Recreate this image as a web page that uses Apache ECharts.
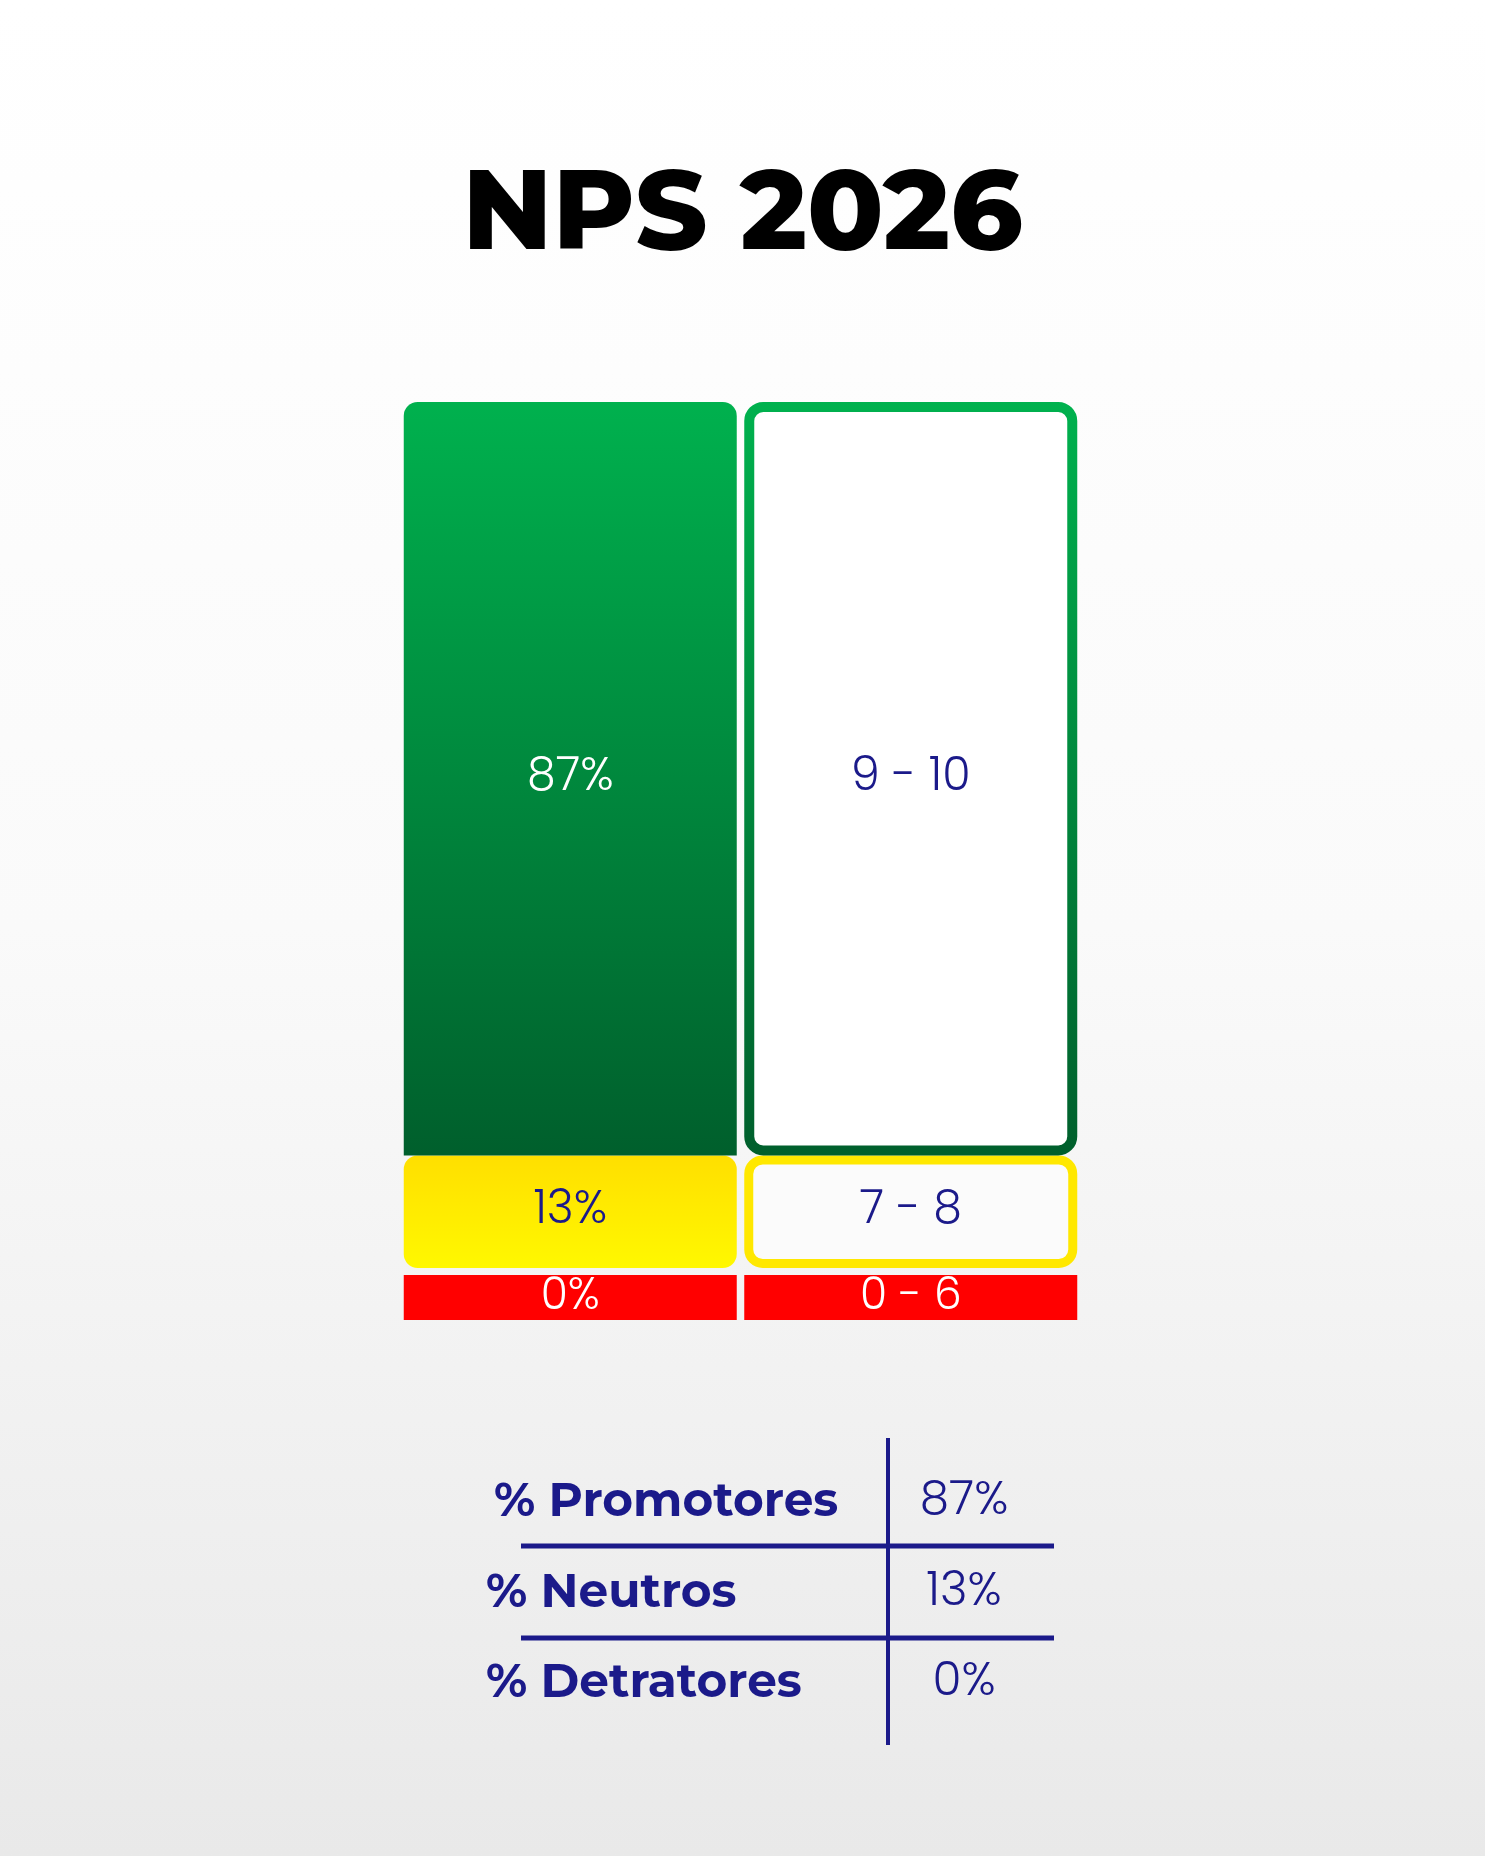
<!DOCTYPE html>
<html>
<head>
<meta charset="utf-8">
<script src="https://cdn.jsdelivr.net/npm/echarts@6/dist/echarts.min.js"></script>
<style>
  html, body { margin: 0; padding: 0; }
  #chart { width: 1485px; height: 1856px; background: linear-gradient(#ffffff 0%, #fafafa 50%, #e9e9e9 100%); }
</style>
</head>
<body>
<div id="chart"></div>
<script>
// data
const columns = ['pct', 'range'];
const promotores = 87;
const neutros = 13;
const detratores = 0;
const ranges = ['9 - 10', '7 - 8', '0 - 6'];
const tableLabels = ['% Promotores', '% Neutros', '% Detratores'];
const tableValues = [promotores, neutros, detratores];

const navy = '#1b1a8a';
const font = 'Poppins, Inter, "Open Sans", sans-serif';
const greenGrad = new echarts.graphic.LinearGradient(0, 0, 0, 1, [
  { offset: 0, color: '#00b14e' }, { offset: 1, color: '#005f2c' }]);
const yellowGrad = new echarts.graphic.LinearGradient(0, 0, 0, 1, [
  { offset: 0, color: '#ffdf00' }, { offset: 1, color: '#fff800' }]);

let chart = echarts.init(document.getElementById('chart'));

const labelStyle = { show: true, position: 'inside', fontFamily: font, fontSize: 46, fontWeight: 300 };

// table graphics
const rowY = [1502, 1593, 1683];
let graphics = [
  { type: 'text', left: 'center', top: 160,
    style: { text: 'NPS 2026', fontSize: 112, fontWeight: 800, fontFamily: 'Montserrat, Inter, sans-serif',
      fill: new echarts.graphic.LinearGradient(0, 0, 1, 0, [{ offset: 0, color: '#1c1a9a' }, { offset: 1, color: '#121060' }]) } },
  { type: 'line', shape: { x1: 888, y1: 1438, x2: 888, y2: 1745 }, style: { stroke: navy, lineWidth: 4 } },
  { type: 'line', shape: { x1: 521, y1: 1546, x2: 1054, y2: 1546 }, style: { stroke: navy, lineWidth: 5 } },
  { type: 'line', shape: { x1: 521, y1: 1638, x2: 1054, y2: 1638 }, style: { stroke: navy, lineWidth: 5 } }
];
tableLabels.forEach((t, i) => {
  graphics.push({ type: 'text', x: i === 0 ? 494 : 486, y: rowY[i],
    style: { text: t, fontSize: 47, fontWeight: 700, fontFamily: 'Montserrat, Inter, sans-serif', fill: navy, verticalAlign: 'middle' } });
  graphics.push({ type: 'text', x: 964, y: rowY[i],
    style: { text: tableValues[i] + '%', fontSize: 47, fontWeight: 300, fontFamily: font, fill: navy, align: 'center', verticalAlign: 'middle' } });
});

let chartOption = {
  animation: false,
  grid: [
    { left: 400, width: 681, top: 402, height: 866 },
    { left: 400, width: 681, top: 1275, height: 45 }
  ],
  xAxis: [
    { type: 'category', data: columns, gridIndex: 0, show: false },
    { type: 'category', data: columns, gridIndex: 1, show: false }
  ],
  yAxis: [
    { type: 'value', min: 0, max: promotores + neutros, gridIndex: 0, show: false },
    { type: 'value', min: 0, max: 1, gridIndex: 1, show: false }
  ],
  series: [
    {
      type: 'bar', stack: 'a', xAxisIndex: 0, yAxisIndex: 0, barWidth: 333, barGap: 0,
      data: [
        { value: neutros, itemStyle: { color: yellowGrad, borderRadius: 14 },
          label: { ...labelStyle, color: navy, formatter: neutros + '%' } },
        { value: neutros, itemStyle: { color: '#fbfbfb', borderColor: '#ffe800', borderWidth: 9, borderRadius: 14 },
          label: { ...labelStyle, color: navy, formatter: ranges[1] } }
      ]
    },
    {
      type: 'bar', stack: 'a', xAxisIndex: 0, yAxisIndex: 0, barWidth: 333,
      data: [
        { value: promotores, itemStyle: { color: greenGrad, borderRadius: [14, 14, 0, 0] },
          label: { ...labelStyle, color: '#ffffff', formatter: promotores + '%' } },
        { value: promotores, itemStyle: { color: '#ffffff', borderColor: greenGrad, borderWidth: 10, borderRadius: 14 },
          label: { ...labelStyle, color: navy, formatter: ranges[0] } }
      ]
    },
    {
      type: 'bar', xAxisIndex: 1, yAxisIndex: 1, barWidth: 333,
      itemStyle: { color: '#ff0000' },
      data: [
        { value: 1, label: { ...labelStyle, color: '#ffffff', fontSize: 44, formatter: detratores + '%' } },
        { value: 1, label: { ...labelStyle, color: '#ffffff', fontSize: 44, formatter: ranges[2] } }
      ]
    }
  ],
  graphic: graphics
};

chart.setOption(chartOption);
</script>
</body>
</html>
